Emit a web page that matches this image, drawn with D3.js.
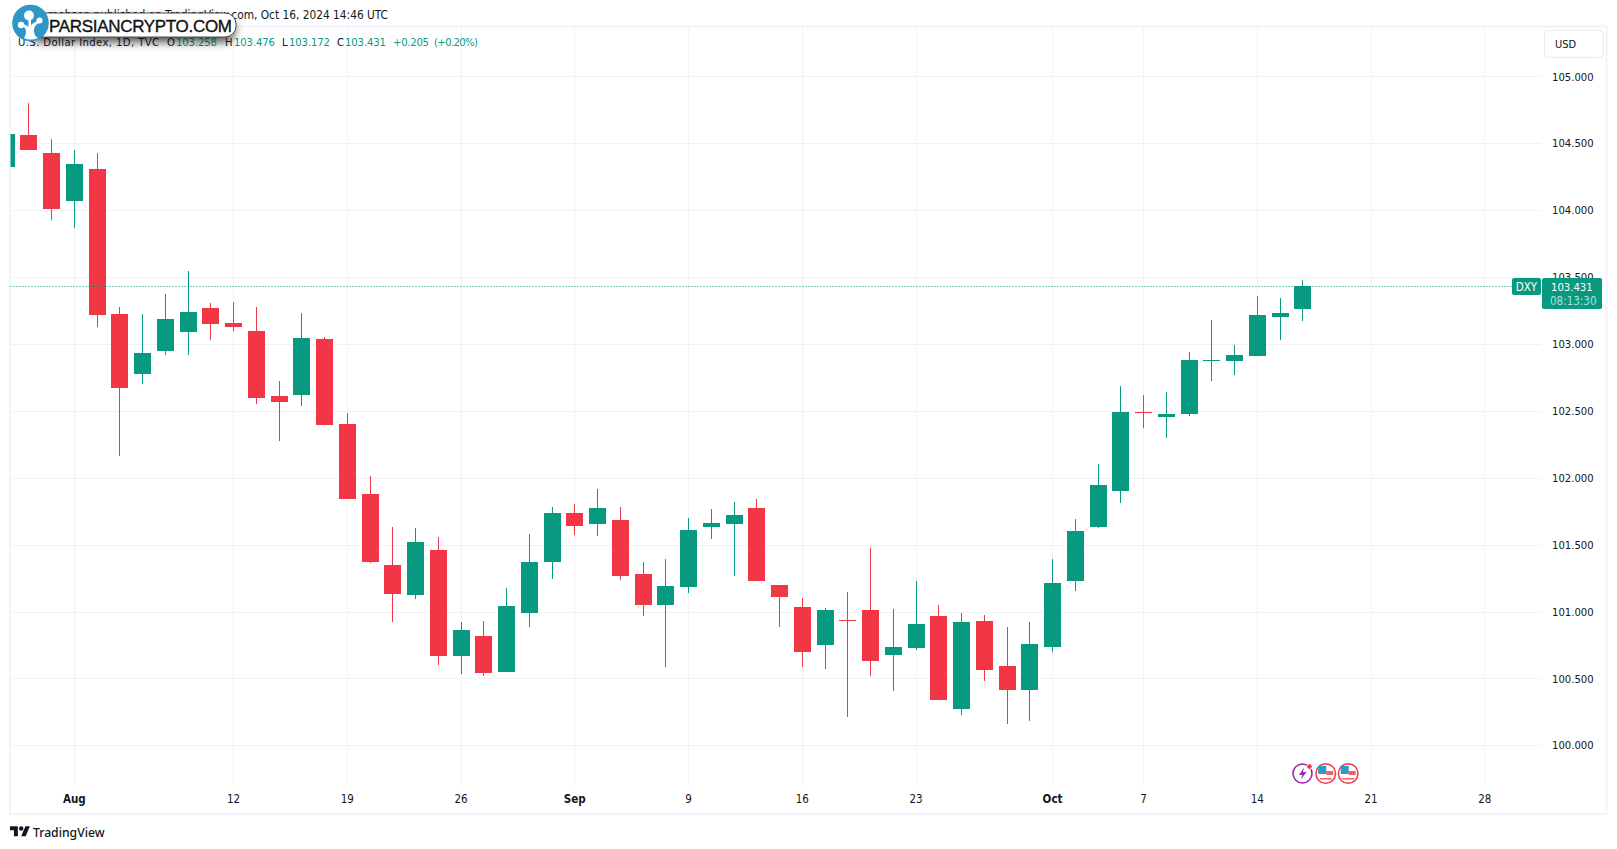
<!DOCTYPE html>
<html><head><meta charset="utf-8">
<script src="https://cdn.jsdelivr.net/npm/d3@7/dist/d3.min.js"></script>
<style>
html,body{margin:0;padding:0;background:#fff;overflow:hidden}
svg{display:block}
text{font-family:"DejaVu Sans Condensed","DejaVu Sans",sans-serif;fill:#131722}
.axis path,.axis line{display:none}
</style></head><body><svg id="c" width="1617" height="849"></svg>
<script>
const open=[104.322,104.561,104.427,104.068,104.307,103.223,102.775,102.947,103.089,103.268,103.156,103.096,102.611,102.618,103.037,102.401,101.878,101.348,101.123,101.460,100.667,100.817,100.548,100.989,101.370,101.736,101.654,101.684,101.280,101.049,101.183,101.632,101.654,101.774,101.198,101.034,100.750,100.936,101.011,100.675,100.727,100.966,100.271,100.929,100.593,100.413,100.735,101.228,101.632,101.901,102.491,102.454,102.476,102.875,102.872,102.910,103.201,103.258];
const high=[104.600,104.800,104.531,104.449,104.427,103.276,103.223,103.373,103.545,103.306,103.313,103.276,102.723,103.231,103.052,102.484,102.013,101.632,101.624,101.557,100.922,100.929,101.176,101.579,101.781,101.803,101.916,101.781,101.370,101.392,101.699,101.766,101.818,101.841,101.198,101.101,101.026,101.146,101.475,101.019,101.228,101.049,100.989,100.974,100.884,100.922,101.392,101.691,102.102,102.685,102.618,102.640,102.939,103.179,102.992,103.358,103.343,103.476];
const low=[104.300,104.449,103.926,103.866,103.126,102.162,102.700,102.917,102.917,103.029,103.096,102.551,102.274,102.536,102.394,101.841,101.362,100.922,101.093,100.600,100.533,100.518,100.548,100.884,101.243,101.572,101.564,101.235,100.966,100.585,101.138,101.542,101.265,101.228,100.884,100.585,100.570,100.212,100.518,100.406,100.712,100.339,100.226,100.481,100.159,100.182,100.697,101.153,101.624,101.811,102.371,102.297,102.461,102.723,102.768,102.910,103.029,103.172];
const close=[104.569,104.449,104.008,104.345,103.216,102.670,102.932,103.186,103.238,103.149,103.126,102.596,102.566,103.044,102.394,101.841,101.370,101.131,101.519,100.667,100.862,100.540,101.041,101.370,101.736,101.639,101.774,101.265,101.049,101.191,101.609,101.661,101.721,101.228,101.108,100.697,101.011,100.929,100.630,100.735,100.907,100.339,100.922,100.563,100.413,100.757,101.213,101.602,101.945,102.491,102.486,102.476,102.880,102.880,102.917,103.216,103.231,103.431];
const priceTicks=[100,100.5,101,101.5,102,102.5,103,103.5,104,104.5,105];
const timeTickIndex=[3,10,15,20,25,30,35,40,46,50,55,60,65];
const timeTickLabels=["Aug","12","19","26","Sep","9","16","23","Oct","7","14","21","28"];
const monthLabels=["Aug","Sep","Oct"];
const lastPrice=103.431;
const legendTexts=["U.S. Dollar Index, 1D, TVC","O","103.258","H","103.476","L","103.172","C","103.431","+0.205","(+0.20%)"];

const GREEN="#089981",RED="#F23645",GRID="#f1f2f6",FRAME="#f0f3fa",INK="#131722";
const legendLayout=[[18,141,INK],[167,8,INK],[176,41,GREEN],[225,8,INK],[234,41,GREEN],[282,6,INK],[289,41,GREEN],[337,7,INK],[345,41,GREEN],[393,36,GREEN],[434,44,GREEN]];
const svg=d3.select("#c");
const L=10.5,R=1540.5,T=27,B=786;
const x=d3.scaleLinear().domain([1,57]).range([28.3,1302.3]);
const y=d3.scaleLinear().domain([100,104.5]).range([745.3,143.3]);
const candles=open.map((o,i)=>({i,o,h:high[i],l:low[i],c:close[i]}));

svg.append("defs").append("clipPath").attr("id","pane").append("rect").attr("x",L).attr("y",T).attr("width",R-L).attr("height",B-T);
const shadow=svg.select("defs").append("filter").attr("id","sh").attr("x","-30%").attr("y","-60%").attr("width","160%").attr("height","260%");
shadow.append("feDropShadow").attr("dx",-1).attr("dy",5).attr("stdDeviation",4.5).attr("flood-color","#000").attr("flood-opacity",.65);

// grid
const g=svg.append("g");
g.selectAll("line.h").data(priceTicks).join("line").attr("x1",L).attr("x2",R).attr("y1",d=>Math.round(y(d))+.5).attr("y2",d=>Math.round(y(d))+.5).attr("stroke",GRID);
g.selectAll("line.v").data(timeTickIndex).join("line").attr("x1",d=>Math.round(x(d))+.5).attr("x2",d=>Math.round(x(d))+.5).attr("y1",T).attr("y2",B).attr("stroke",GRID);

// frame
svg.append("path").attr("d","M10 814V26.5H1606.5V814H10").attr("fill","none").attr("stroke",FRAME).attr("stroke-width",2);

// axes
const ya=svg.append("g").attr("class","axis").attr("transform","translate(1552,0)")
 .call(d3.axisRight(y).tickValues(priceTicks).tickSize(0).tickPadding(0).tickFormat(d3.format(".3f")));
ya.selectAll("text").style("font-size","11.2px");
const xa=svg.append("g").attr("class","axis").attr("transform","translate(0,795)")
 .call(d3.axisBottom(x).tickValues(timeTickIndex).tickSize(0).tickPadding(0).tickFormat((d,i)=>timeTickLabels[i]));
xa.selectAll("text").style("font-size","11.5px").style("font-weight",(d,i)=>monthLabels.includes(timeTickLabels[i])?"700":"400");

// candles
const pane=svg.append("g").attr("clip-path","url(#pane)");
pane.selectAll("line.w").data(candles).join("line")
 .attr("x1",d=>Math.round(x(d.i))+.5).attr("x2",d=>Math.round(x(d.i))+.5)
 .attr("y1",d=>y(d.h)).attr("y2",d=>y(d.l))
 .attr("stroke",d=>d.c>=d.o?GREEN:RED);
pane.selectAll("rect.b").data(candles).join("rect")
 .attr("x",d=>Math.round(x(d.i))-8).attr("width",17)
 .attr("y",d=>Math.round(y(Math.max(d.o,d.c))))
 .attr("height",d=>Math.max(1,Math.round(y(Math.min(d.o,d.c)))-Math.round(y(Math.max(d.o,d.c)))))
 .attr("fill",d=>d.c>=d.o?GREEN:RED);

// last price line
const ly=Math.round(y(lastPrice))+.5;
svg.append("line").attr("x1",L).attr("x2",1512).attr("y1",ly).attr("y2",ly).attr("stroke",GREEN).attr("stroke-dasharray","1 2");
svg.append("rect").attr("x",1512).attr("y",278).attr("width",29).attr("height",17).attr("rx",2).attr("fill",GREEN);
svg.append("text").attr("x",1526.5).attr("y",290.5).attr("text-anchor","middle").style("fill","#fff").style("font-size","11.5px").text("DXY");
svg.append("rect").attr("x",1542).attr("y",278).attr("width",60).attr("height",31).attr("rx",2).attr("fill",GREEN);
svg.append("text").attr("x",1551).attr("y",290.5).style("fill","#fff").style("font-size","11.2px").text(d3.format(".3f")(lastPrice));
svg.append("text").attr("x",1550).attr("y",304.5).style("fill","rgba(255,255,255,.7)").style("font-size","11.5px").text("08:13:30");

// USD
svg.append("rect").attr("x",1544.5).attr("y",30.5).attr("width",59).attr("height",27).attr("rx",4).attr("fill","#fff").attr("stroke","#e8eaf0");
svg.append("text").attr("x",1555).attr("y",48).style("font-size","11px").text("USD");

// header
svg.append("text").attr("x",388).attr("y",19).attr("text-anchor","end").style("font-size","11.8px").text("mohsen published on TradingView.com, Oct 16, 2024 14:46 UTC");
svg.selectAll("text.li").data(legendTexts).join("text")
 .attr("x",(d,i)=>legendLayout[i][0]).attr("y",45.5).attr("textLength",(d,i)=>legendLayout[i][1]).attr("lengthAdjust","spacing")
 .style("font-size","11.2px").style("fill",(d,i)=>legendLayout[i][2]).text(d=>d);

// event icons
const ev=svg.append("g");
ev.append("circle").attr("cx",1302.5).attr("cy",773.5).attr("r",9.5).attr("fill","#fff").attr("stroke","#9c27b0").attr("stroke-width",1.6);
ev.append("path").attr("d","M1304 767.5L1299 775H1302.5L1300.5 780L1306.5 772H1303Z").attr("fill","#9c27b0");
ev.append("circle").attr("cx",1309.5).attr("cy",766.5).attr("r",2.8).attr("fill",RED).attr("stroke","#fff");
[1325.7,1348.2].forEach(c=>{
 ev.append("circle").attr("cx",c).attr("cy",773.5).attr("r",9.8).attr("fill","#fff").attr("stroke",RED).attr("stroke-width",1.5);
 ev.append("rect").attr("x",c-7.5).attr("y",766).attr("width",8).attr("height",8).attr("fill","#2e9bc6");
 ev.append("rect").attr("x",c+.5).attr("y",771).attr("width",7).attr("height",4).attr("fill","#f0616d");
 ev.append("rect").attr("x",c-6).attr("y",778).attr("width",12).attr("height",1.5).attr("fill","#f0616d");
});

// TradingView logo
const tv=svg.append("g").attr("transform","translate(10,824) scale(.56)");
tv.append("path").attr("d","M14 22H7V11H0V4h14v18zM28 22h-8l7.5-18h8L28 22z").attr("fill",INK);
tv.append("circle").attr("cx",20).attr("cy",8).attr("r",4).attr("fill",INK);
svg.append("text").attr("x",33).attr("y",836.5).style("font-family","'Noto Sans',sans-serif").style("font-size","12.2px").style("font-weight","500").text("TradingView");

// watermark
const wm=svg.append("g");
wm.append("rect").attr("x",30).attr("y",13).attr("width",206).attr("height",24).attr("rx",11).attr("fill","#fff").attr("stroke","#222").attr("stroke-width",.8).attr("filter","url(#sh)");
wm.append("text").attr("x",49).attr("y",31.5).attr("textLength",183).style("font-family","'Liberation Sans',sans-serif").style("font-size","17px").style("fill","#111").style("stroke","#111").style("stroke-width",.35).text("PARSIANCRYPTO.COM");
wm.append("circle").attr("cx",30.5).attr("cy",23).attr("r",18.3).attr("fill","#2f97c6");
wm.append("path").attr("d","M24 38C27 33 27 28 22 26L23 24C26 25 27.5 26 28.5 27L28.5 19H31L31 25C33 23 35 22 38 21L39 23C35 25 33.5 28 34 32C34.5 35 36 37 38 38C33 40 28 40 24 38Z").attr("fill","#fff");
[[29,15.5,5],[39.5,20.5,3],[21,25,3.2]].forEach(c=>wm.append("circle").attr("cx",c[0]).attr("cy",c[1]).attr("r",c[2]).attr("fill","#fff"));
</script></body></html>
